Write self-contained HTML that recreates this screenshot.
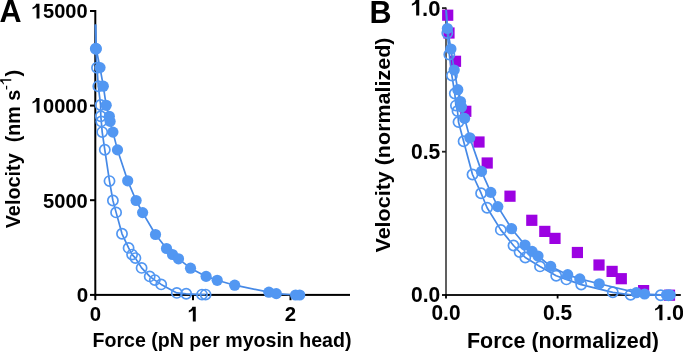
<!DOCTYPE html>
<html><head><meta charset="utf-8"><style>
html,body{margin:0;padding:0;background:#fff;}
body{width:683px;height:352px;overflow:hidden;}
svg{display:block;will-change:transform;filter:blur(0.4px);}
</style></head><body>
<svg width="683" height="352" viewBox="0 0 683 352">
<rect width="683" height="352" fill="#fff"/>
<g fill="#000">
<rect x="94.3" y="10" width="2" height="286"/>
<rect x="94.3" y="293.9" width="255.7" height="2"/>
<rect x="90" y="10" width="5" height="2"/>
<rect x="90" y="104.6" width="5" height="2"/>
<rect x="90" y="199.2" width="5" height="2"/>
<rect x="90" y="293.9" width="5" height="2"/>
<rect x="94.3" y="294" width="2" height="6.2"/>
<rect x="192" y="294" width="2" height="6.2"/>
<rect x="289.5" y="294" width="2" height="6.2"/>
</g>
<rect x="445.2" y="7.5" width="1.6" height="288" fill="#3a3a3a"/>
<rect x="445.2" y="294.1" width="235.6" height="1.8" fill="#000"/>
<rect x="442" y="7.199999999999999" width="4" height="1.8" fill="#222"/>
<rect x="442" y="150.79999999999998" width="4" height="1.8" fill="#222"/>
<rect x="442" y="294.1" width="4" height="1.8" fill="#000"/>
<rect x="445.1" y="294.5" width="1.8" height="4" fill="#000"/>
<rect x="556.7" y="294.5" width="1.8" height="4" fill="#000"/>
<rect x="668.1" y="294.5" width="1.8" height="4" fill="#000"/>
<rect x="442.1" y="9.6" width="11.2" height="11.2" fill="#9C02E2"/>
<rect x="443.4" y="27.4" width="11.2" height="11.2" fill="#9C02E2"/>
<rect x="449.9" y="55.7" width="11.2" height="11.2" fill="#9C02E2"/>
<rect x="460.2" y="105.7" width="11.2" height="11.2" fill="#9C02E2"/>
<rect x="473.4" y="136.4" width="11.2" height="11.2" fill="#9C02E2"/>
<rect x="481.6" y="157.4" width="11.2" height="11.2" fill="#9C02E2"/>
<rect x="504.4" y="190.6" width="11.2" height="11.2" fill="#9C02E2"/>
<rect x="526.2" y="214.7" width="11.2" height="11.2" fill="#9C02E2"/>
<rect x="539.2" y="225.8" width="11.2" height="11.2" fill="#9C02E2"/>
<rect x="549.4" y="232.8" width="11.2" height="11.2" fill="#9C02E2"/>
<rect x="571.8" y="246.9" width="11.2" height="11.2" fill="#9C02E2"/>
<rect x="593.4" y="259.4" width="11.2" height="11.2" fill="#9C02E2"/>
<rect x="606.5" y="265.8" width="11.2" height="11.2" fill="#9C02E2"/>
<rect x="615.7" y="273.1" width="11.2" height="11.2" fill="#9C02E2"/>
<rect x="638.0" y="285.0" width="11.2" height="11.2" fill="#9C02E2"/>
<rect x="663.9" y="289.6" width="11.2" height="11.2" fill="#9C02E2"/>
<path d="M446.2,10.0 L447.3,33.0 L449.3,54.5 L451.9,75.6 L454.8,93.5 L455.9,105.6 L457.5,111.0 L458.5,122.0 L463.6,141.3 L472.5,174.5 L481.1,193.2 L487.1,207.7 L500.8,229.9 L513.5,245.5 L519.6,252.0 L525.3,257.5 L540.0,266.4 L556.2,275.7 L566.4,279.4 L581.2,284.6 L612.8,292.3 L630.6,294.8 L660.7,295.2 L668.5,295.2" fill="none" stroke="#4689E6" stroke-width="1.7" stroke-linejoin="round"/>
<circle cx="447.3" cy="33.0" r="5.1" fill="none" stroke="#5297F2" stroke-width="1.7"/>
<circle cx="449.3" cy="54.5" r="5.1" fill="none" stroke="#5297F2" stroke-width="1.7"/>
<circle cx="451.9" cy="75.6" r="5.1" fill="none" stroke="#5297F2" stroke-width="1.7"/>
<circle cx="454.8" cy="93.5" r="5.1" fill="none" stroke="#5297F2" stroke-width="1.7"/>
<circle cx="455.9" cy="105.6" r="5.1" fill="none" stroke="#5297F2" stroke-width="1.7"/>
<circle cx="457.5" cy="111.0" r="5.1" fill="none" stroke="#5297F2" stroke-width="1.7"/>
<circle cx="458.5" cy="122.0" r="5.1" fill="none" stroke="#5297F2" stroke-width="1.7"/>
<circle cx="463.6" cy="141.3" r="5.1" fill="none" stroke="#5297F2" stroke-width="1.7"/>
<circle cx="472.5" cy="174.5" r="5.1" fill="none" stroke="#5297F2" stroke-width="1.7"/>
<circle cx="481.1" cy="193.2" r="5.1" fill="none" stroke="#5297F2" stroke-width="1.7"/>
<circle cx="487.1" cy="207.7" r="5.1" fill="none" stroke="#5297F2" stroke-width="1.7"/>
<circle cx="500.8" cy="229.9" r="5.1" fill="none" stroke="#5297F2" stroke-width="1.7"/>
<circle cx="513.5" cy="245.5" r="5.1" fill="none" stroke="#5297F2" stroke-width="1.7"/>
<circle cx="519.6" cy="252.0" r="5.1" fill="none" stroke="#5297F2" stroke-width="1.7"/>
<circle cx="525.3" cy="257.5" r="5.1" fill="none" stroke="#5297F2" stroke-width="1.7"/>
<circle cx="540.0" cy="266.4" r="5.1" fill="none" stroke="#5297F2" stroke-width="1.7"/>
<circle cx="556.2" cy="275.7" r="5.1" fill="none" stroke="#5297F2" stroke-width="1.7"/>
<circle cx="566.4" cy="279.4" r="5.1" fill="none" stroke="#5297F2" stroke-width="1.7"/>
<circle cx="581.2" cy="284.6" r="5.1" fill="none" stroke="#5297F2" stroke-width="1.7"/>
<circle cx="612.8" cy="292.3" r="5.1" fill="none" stroke="#5297F2" stroke-width="1.7"/>
<circle cx="630.6" cy="294.8" r="5.1" fill="none" stroke="#5297F2" stroke-width="1.7"/>
<circle cx="660.7" cy="295.2" r="5.1" fill="none" stroke="#5297F2" stroke-width="1.7"/>
<circle cx="668.5" cy="295.2" r="5.1" fill="none" stroke="#5297F2" stroke-width="1.7"/>
<path d="M446.2,10.0 L447.4,28.5 L450.9,49.0 L454.2,70.0 L457.8,89.7 L460.5,101.5 L461.5,107.0 L464.6,118.4 L469.8,137.8 L481.5,171.4 L490.8,192.4 L497.8,206.6 L511.6,228.7 L525.0,245.0 L532.1,251.4 L538.0,256.0 L550.7,266.4 L567.7,274.7 L579.8,278.9 L599.2,283.8 L636.3,292.7 L644.6,294.0 L666.5,295.0 L670.2,295.0" fill="none" stroke="#4689E6" stroke-width="1.7" stroke-linejoin="round"/>
<circle cx="447.4" cy="28.5" r="5.6" fill="#5297F2"/>
<circle cx="450.9" cy="49.0" r="5.6" fill="#5297F2"/>
<circle cx="454.2" cy="70.0" r="5.6" fill="#5297F2"/>
<circle cx="457.8" cy="89.7" r="5.6" fill="#5297F2"/>
<circle cx="460.5" cy="101.5" r="5.6" fill="#5297F2"/>
<circle cx="461.5" cy="107.0" r="5.6" fill="#5297F2"/>
<circle cx="464.6" cy="118.4" r="5.6" fill="#5297F2"/>
<circle cx="469.8" cy="137.8" r="5.6" fill="#5297F2"/>
<circle cx="481.5" cy="171.4" r="5.6" fill="#5297F2"/>
<circle cx="490.8" cy="192.4" r="5.6" fill="#5297F2"/>
<circle cx="497.8" cy="206.6" r="5.6" fill="#5297F2"/>
<circle cx="511.6" cy="228.7" r="5.6" fill="#5297F2"/>
<circle cx="525.0" cy="245.0" r="5.6" fill="#5297F2"/>
<circle cx="532.1" cy="251.4" r="5.6" fill="#5297F2"/>
<circle cx="538.0" cy="256.0" r="5.6" fill="#5297F2"/>
<circle cx="550.7" cy="266.4" r="5.6" fill="#5297F2"/>
<circle cx="567.7" cy="274.7" r="5.6" fill="#5297F2"/>
<circle cx="579.8" cy="278.9" r="5.6" fill="#5297F2"/>
<circle cx="599.2" cy="283.8" r="5.6" fill="#5297F2"/>
<circle cx="636.3" cy="292.7" r="5.6" fill="#5297F2"/>
<circle cx="644.6" cy="294.0" r="5.6" fill="#5297F2"/>
<circle cx="666.5" cy="295.0" r="5.6" fill="#5297F2"/>
<circle cx="670.2" cy="295.0" r="5.6" fill="#5297F2"/>
<path d="M95.5,24.6 L95.8,48.8 L97.0,67.7 L98.3,86.2 L100.6,105.0 L100.8,116.3 L101.3,121.4 L102.2,132.1 L104.8,149.8 L109.5,181.1 L112.9,200.5 L116.1,212.4 L122.0,233.8 L128.6,247.9 L132.1,254.6 L135.4,258.1 L141.6,267.9 L149.7,276.4 L154.8,280.1 L161.2,284.4 L176.8,292.9 L186.2,293.8 L202.0,294.6 L205.6,294.6" fill="none" stroke="#4689E6" stroke-width="1.7" stroke-linejoin="round"/>
<circle cx="95.8" cy="48.8" r="5.1" fill="none" stroke="#5297F2" stroke-width="1.7"/>
<circle cx="97.0" cy="67.7" r="5.1" fill="none" stroke="#5297F2" stroke-width="1.7"/>
<circle cx="98.3" cy="86.2" r="5.1" fill="none" stroke="#5297F2" stroke-width="1.7"/>
<circle cx="100.6" cy="105.0" r="5.1" fill="none" stroke="#5297F2" stroke-width="1.7"/>
<circle cx="100.8" cy="116.3" r="5.1" fill="none" stroke="#5297F2" stroke-width="1.7"/>
<circle cx="101.3" cy="121.4" r="5.1" fill="none" stroke="#5297F2" stroke-width="1.7"/>
<circle cx="102.2" cy="132.1" r="5.1" fill="none" stroke="#5297F2" stroke-width="1.7"/>
<circle cx="104.8" cy="149.8" r="5.1" fill="none" stroke="#5297F2" stroke-width="1.7"/>
<circle cx="109.5" cy="181.1" r="5.1" fill="none" stroke="#5297F2" stroke-width="1.7"/>
<circle cx="112.9" cy="200.5" r="5.1" fill="none" stroke="#5297F2" stroke-width="1.7"/>
<circle cx="116.1" cy="212.4" r="5.1" fill="none" stroke="#5297F2" stroke-width="1.7"/>
<circle cx="122.0" cy="233.8" r="5.1" fill="none" stroke="#5297F2" stroke-width="1.7"/>
<circle cx="128.6" cy="247.9" r="5.1" fill="none" stroke="#5297F2" stroke-width="1.7"/>
<circle cx="132.1" cy="254.6" r="5.1" fill="none" stroke="#5297F2" stroke-width="1.7"/>
<circle cx="135.4" cy="258.1" r="5.1" fill="none" stroke="#5297F2" stroke-width="1.7"/>
<circle cx="141.6" cy="267.9" r="5.1" fill="none" stroke="#5297F2" stroke-width="1.7"/>
<circle cx="149.7" cy="276.4" r="5.1" fill="none" stroke="#5297F2" stroke-width="1.7"/>
<circle cx="154.8" cy="280.1" r="5.1" fill="none" stroke="#5297F2" stroke-width="1.7"/>
<circle cx="161.2" cy="284.4" r="5.1" fill="none" stroke="#5297F2" stroke-width="1.7"/>
<circle cx="176.8" cy="292.9" r="5.1" fill="none" stroke="#5297F2" stroke-width="1.7"/>
<circle cx="186.2" cy="293.8" r="5.1" fill="none" stroke="#5297F2" stroke-width="1.7"/>
<circle cx="202.0" cy="294.6" r="5.1" fill="none" stroke="#5297F2" stroke-width="1.7"/>
<circle cx="205.6" cy="294.6" r="5.1" fill="none" stroke="#5297F2" stroke-width="1.7"/>
<path d="M95.5,24.6 L96.2,48.8 L100.0,67.6 L103.3,86.2 L106.2,105.3 L109.3,116.3 L110.1,121.4 L112.9,132.1 L117.5,149.9 L127.7,180.8 L136.1,200.5 L142.6,212.6 L155.5,234.5 L166.5,248.5 L172.5,254.5 L178.5,258.8 L190.5,268.2 L206.1,276.4 L217.2,280.3 L234.7,285.2 L268.9,292.2 L276.3,293.6 L295.6,295.0 L299.7,295.0" fill="none" stroke="#4689E6" stroke-width="1.7" stroke-linejoin="round"/>
<circle cx="96.2" cy="48.8" r="5.6" fill="#5297F2"/>
<circle cx="100.0" cy="67.6" r="5.6" fill="#5297F2"/>
<circle cx="103.3" cy="86.2" r="5.6" fill="#5297F2"/>
<circle cx="106.2" cy="105.3" r="5.6" fill="#5297F2"/>
<circle cx="109.3" cy="116.3" r="5.6" fill="#5297F2"/>
<circle cx="110.1" cy="121.4" r="5.6" fill="#5297F2"/>
<circle cx="112.9" cy="132.1" r="5.6" fill="#5297F2"/>
<circle cx="117.5" cy="149.9" r="5.6" fill="#5297F2"/>
<circle cx="127.7" cy="180.8" r="5.6" fill="#5297F2"/>
<circle cx="136.1" cy="200.5" r="5.6" fill="#5297F2"/>
<circle cx="142.6" cy="212.6" r="5.6" fill="#5297F2"/>
<circle cx="155.5" cy="234.5" r="5.6" fill="#5297F2"/>
<circle cx="166.5" cy="248.5" r="5.6" fill="#5297F2"/>
<circle cx="172.5" cy="254.5" r="5.6" fill="#5297F2"/>
<circle cx="178.5" cy="258.8" r="5.6" fill="#5297F2"/>
<circle cx="190.5" cy="268.2" r="5.6" fill="#5297F2"/>
<circle cx="206.1" cy="276.4" r="5.6" fill="#5297F2"/>
<circle cx="217.2" cy="280.3" r="5.6" fill="#5297F2"/>
<circle cx="234.7" cy="285.2" r="5.6" fill="#5297F2"/>
<circle cx="268.9" cy="292.2" r="5.6" fill="#5297F2"/>
<circle cx="276.3" cy="293.6" r="5.6" fill="#5297F2"/>
<circle cx="295.6" cy="295.0" r="5.6" fill="#5297F2"/>
<circle cx="299.7" cy="295.0" r="5.6" fill="#5297F2"/>
<text x="-0.6" y="21.7" font-size="30.5" font-family="&apos;Liberation Sans&apos;, sans-serif" font-weight="bold" text-anchor="start" >A</text>
<path d="M0.071,0 L0.071,0.716 L-0.091,0.716 C-0.121,0.64 -0.16,0.575 -0.267,0.535 L-0.267,0.445 C-0.19,0.470 -0.12,0.505 -0.071,0.550 L-0.071,0 Z" fill="#000" transform="translate(38.0,18.4) scale(20.600,-20.600)"/>
<text x="43.0" y="18.4" font-size="20.6" font-family="&apos;Liberation Sans&apos;, sans-serif" font-weight="bold" text-anchor="start" textLength="44.6" lengthAdjust="spacingAndGlyphs" >5000</text>
<path d="M0.071,0 L0.071,0.716 L-0.091,0.716 C-0.121,0.64 -0.16,0.575 -0.267,0.535 L-0.267,0.445 C-0.19,0.470 -0.12,0.505 -0.071,0.550 L-0.071,0 Z" fill="#000" transform="translate(38.0,112.7) scale(20.600,-20.600)"/>
<text x="43.0" y="112.7" font-size="20.6" font-family="&apos;Liberation Sans&apos;, sans-serif" font-weight="bold" text-anchor="start" textLength="44.6" lengthAdjust="spacingAndGlyphs" >0000</text>
<text x="43.0" y="207.7" font-size="20.6" font-family="&apos;Liberation Sans&apos;, sans-serif" font-weight="bold" text-anchor="start" textLength="44.8" lengthAdjust="spacingAndGlyphs" >5000</text>
<text x="88.3" y="301.9" font-size="20.6" font-family="&apos;Liberation Sans&apos;, sans-serif" font-weight="bold" text-anchor="end" >0</text>
<text x="95.3" y="321.4" font-size="20.4" font-family="&apos;Liberation Sans&apos;, sans-serif" font-weight="bold" text-anchor="middle" >0</text>
<path d="M0.071,0 L0.071,0.716 L-0.091,0.716 C-0.121,0.64 -0.16,0.575 -0.267,0.535 L-0.267,0.445 C-0.19,0.470 -0.12,0.505 -0.071,0.550 L-0.071,0 Z" fill="#000" transform="translate(194.3,321.6) scale(20.600,-20.600)"/>
<text x="290.5" y="321.4" font-size="20.4" font-family="&apos;Liberation Sans&apos;, sans-serif" font-weight="bold" text-anchor="middle" >2</text>
<text x="92.5" y="347" font-size="20.6" font-family="&apos;Liberation Sans&apos;, sans-serif" font-weight="bold" text-anchor="start" textLength="259" lengthAdjust="spacingAndGlyphs" >Force (pN per myosin head)</text>
<g transform="translate(20.0,0) rotate(-90)">
<text x="-228.3" y="0" font-size="20.2" font-family="&apos;Liberation Sans&apos;, sans-serif" font-weight="bold" text-anchor="start" textLength="75" lengthAdjust="spacingAndGlyphs" >Velocity</text>
<text x="-142.3" y="0" font-size="20.2" font-family="&apos;Liberation Sans&apos;, sans-serif" font-weight="bold" text-anchor="start" textLength="52.5" lengthAdjust="spacingAndGlyphs" >(nm s</text>
<text x="-90.3" y="-8.75" font-size="15.5" font-family="&apos;Liberation Sans&apos;, sans-serif">-</text>
<path d="M0.048,0 L0.048,0.716 L-0.068,0.716 C-0.098,0.64 -0.16,0.560 -0.267,0.520 L-0.267,0.460 C-0.19,0.485 -0.12,0.520 -0.048,0.565 L-0.048,0 Z" fill="#000" transform="translate(-80.1,-8.75) scale(15.500,-15.500)"/>
<text x="-76.5" y="0" font-size="20.2" font-family="&apos;Liberation Sans&apos;, sans-serif" font-weight="bold" text-anchor="start" >)</text>
</g>
<text x="369.4" y="22.6" font-size="30.5" font-family="&apos;Liberation Sans&apos;, sans-serif" font-weight="bold" text-anchor="start" >B</text>
<path d="M0.071,0 L0.071,0.716 L-0.091,0.716 C-0.121,0.64 -0.16,0.575 -0.267,0.535 L-0.267,0.445 C-0.19,0.470 -0.12,0.505 -0.071,0.550 L-0.071,0 Z" fill="#000" transform="translate(417.7,15.5) scale(21.800,-21.800)"/>
<text x="422.1" y="15.5" font-size="21.8" font-family="&apos;Liberation Sans&apos;, sans-serif" font-weight="bold" text-anchor="start" textLength="18.4" lengthAdjust="spacingAndGlyphs" >.0</text>
<text x="440.3" y="158.8" font-size="21.8" font-family="&apos;Liberation Sans&apos;, sans-serif" font-weight="bold" text-anchor="end" textLength="29.3" lengthAdjust="spacingAndGlyphs" >0.5</text>
<text x="440.3" y="301.9" font-size="21.8" font-family="&apos;Liberation Sans&apos;, sans-serif" font-weight="bold" text-anchor="end" textLength="29.3" lengthAdjust="spacingAndGlyphs" >0.0</text>
<text x="446" y="320.3" font-size="21.8" font-family="&apos;Liberation Sans&apos;, sans-serif" font-weight="bold" text-anchor="middle" textLength="29" lengthAdjust="spacingAndGlyphs" >0.0</text>
<text x="557.6" y="320.3" font-size="21.8" font-family="&apos;Liberation Sans&apos;, sans-serif" font-weight="bold" text-anchor="middle" textLength="29" lengthAdjust="spacingAndGlyphs" >0.5</text>
<path d="M0.071,0 L0.071,0.716 L-0.091,0.716 C-0.121,0.64 -0.16,0.575 -0.267,0.535 L-0.267,0.445 C-0.19,0.470 -0.12,0.505 -0.071,0.550 L-0.071,0 Z" fill="#000" transform="translate(660.9,320.3) scale(21.800,-21.800)"/>
<text x="665.9" y="320.3" font-size="21.8" font-family="&apos;Liberation Sans&apos;, sans-serif" font-weight="bold" text-anchor="start" textLength="18.1" lengthAdjust="spacingAndGlyphs" >.0</text>
<text x="467" y="347.6" font-size="21.8" font-family="&apos;Liberation Sans&apos;, sans-serif" font-weight="bold" text-anchor="start" textLength="192" lengthAdjust="spacingAndGlyphs" >Force (normalized)</text>
<text transform="translate(389.5,252.5) rotate(-90)" x="0" y="0" font-size="20.6" font-family="&apos;Liberation Sans&apos;, sans-serif" font-weight="bold" textLength="215" lengthAdjust="spacingAndGlyphs">Velocity (normalized)</text>
</svg>
</body></html>
